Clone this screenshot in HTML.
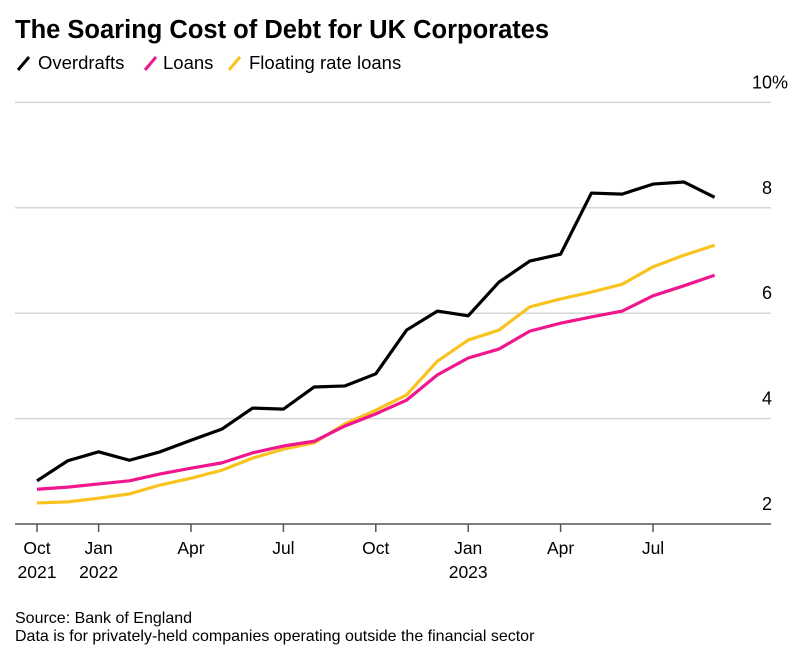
<!DOCTYPE html>
<html><head><meta charset="utf-8"><style>
body{margin:0;background:#fff;font-family:"Liberation Sans",Arial,sans-serif;}
svg text{font-family:"Liberation Sans",Arial,sans-serif;}
</style></head><body>
<svg id="c" width="805" height="653" xmlns="http://www.w3.org/2000/svg">
<text x="15" y="38" font-size="25.5" font-weight="bold" fill="#000">The Soaring Cost of Debt for UK Corporates</text>
<g>
<line x1="18" y1="70" x2="29" y2="57" stroke="#000" stroke-width="3"/>
<text x="38" y="69" font-size="18.5">Overdrafts</text>
<line x1="145" y1="70" x2="156" y2="57" stroke="#f0168e" stroke-width="3"/>
<text x="163" y="69" font-size="18.5">Loans</text>
<line x1="229" y1="70" x2="240" y2="57" stroke="#f9c31f" stroke-width="3"/>
<text x="249" y="69" font-size="18.5">Floating rate loans</text>
</g>
<g id="grid"></g><g id="xax"></g><g id="lines"></g>
<text x="15" y="623" font-size="16">Source: Bank of England</text>
<text x="15" y="641" font-size="16">Data is for privately-held companies operating outside the financial sector</text>
</svg>
<script>
const overdrafts=[2.82,3.20,3.37,3.21,3.37,3.59,3.80,4.20,4.18,4.60,4.62,4.85,5.68,6.04,5.95,6.59,6.99,7.12,8.28,8.26,8.45,8.49,8.20];
const loans=[2.66,2.70,2.76,2.82,2.95,3.06,3.16,3.35,3.48,3.57,3.86,4.09,4.35,4.83,5.15,5.32,5.66,5.81,5.93,6.04,6.33,6.52,6.72];
const floating=[2.40,2.42,2.49,2.57,2.74,2.87,3.02,3.25,3.42,3.54,3.90,4.16,4.45,5.09,5.49,5.68,6.12,6.27,6.40,6.55,6.88,7.10,7.29];
const yTicks=[2,4,6,8,10];
const yTickLabels=["2","4","6","8","10%"];
const xTickIdx=[0,2,5,8,11,14,17,20];
const xTickLabels=[["Oct","2021"],["Jan","2022"],["Apr",""],["Jul",""],["Oct",""],["Jan","2023"],["Apr",""],["Jul",""]];
const NS="http://www.w3.org/2000/svg";
const X=i=>37+30.8*i, Y=v=>524-(v-2)*52.7;
function mk(t,a,p){const e=document.createElementNS(NS,t);for(const k in a)e.setAttribute(k,a[k]);p.appendChild(e);return e;}
const g=document.getElementById('grid');
yTicks.forEach((v,i)=>{
 if(v>2){const l=mk('line',{x1:15,x2:771,y1:Y(v),y2:Y(v),stroke:'#d6d6d6','stroke-width':1.5},g);
 
 }
 const t=mk('text',{x:(v===10?752:762),y:Y(v)-14,'font-size':18},g);t.textContent=yTickLabels[i];
 
 
});
const xa=document.getElementById('xax');
const ax=mk('line',{x1:15,x2:771,y1:524,y2:524,stroke:'#555','stroke-width':1.5},xa);


xTickIdx.forEach((ix,k)=>{
 const tk=mk('line',{x1:X(ix),x2:X(ix),y1:524,y2:532,stroke:'#555','stroke-width':1.5},xa);
 
 
 const t=mk('text',{x:X(ix),y:554,'font-size':17.5,'text-anchor':'middle'},xa);t.textContent=xTickLabels[k][0];
 
 
 if(xTickLabels[k][1]){const t2=mk('text',{x:X(ix),y:578,'font-size':17.5,'text-anchor':'middle'},xa);t2.textContent=xTickLabels[k][1];
 
 }
});
const L=document.getElementById('lines');
[[floating,'#f9c31f','line-floating-rate-loans'],[loans,'#f0168e','line-loans'],[overdrafts,'#000','line-overdrafts']].forEach(([d,c,n])=>{
 const p=mk('polyline',{points:d.map((v,i)=>X(i)+','+Y(v)).join(' '),fill:'none',stroke:c,'stroke-width':3.2,'stroke-linejoin':'round'},L);
 
 
});
</script>
</body></html>
